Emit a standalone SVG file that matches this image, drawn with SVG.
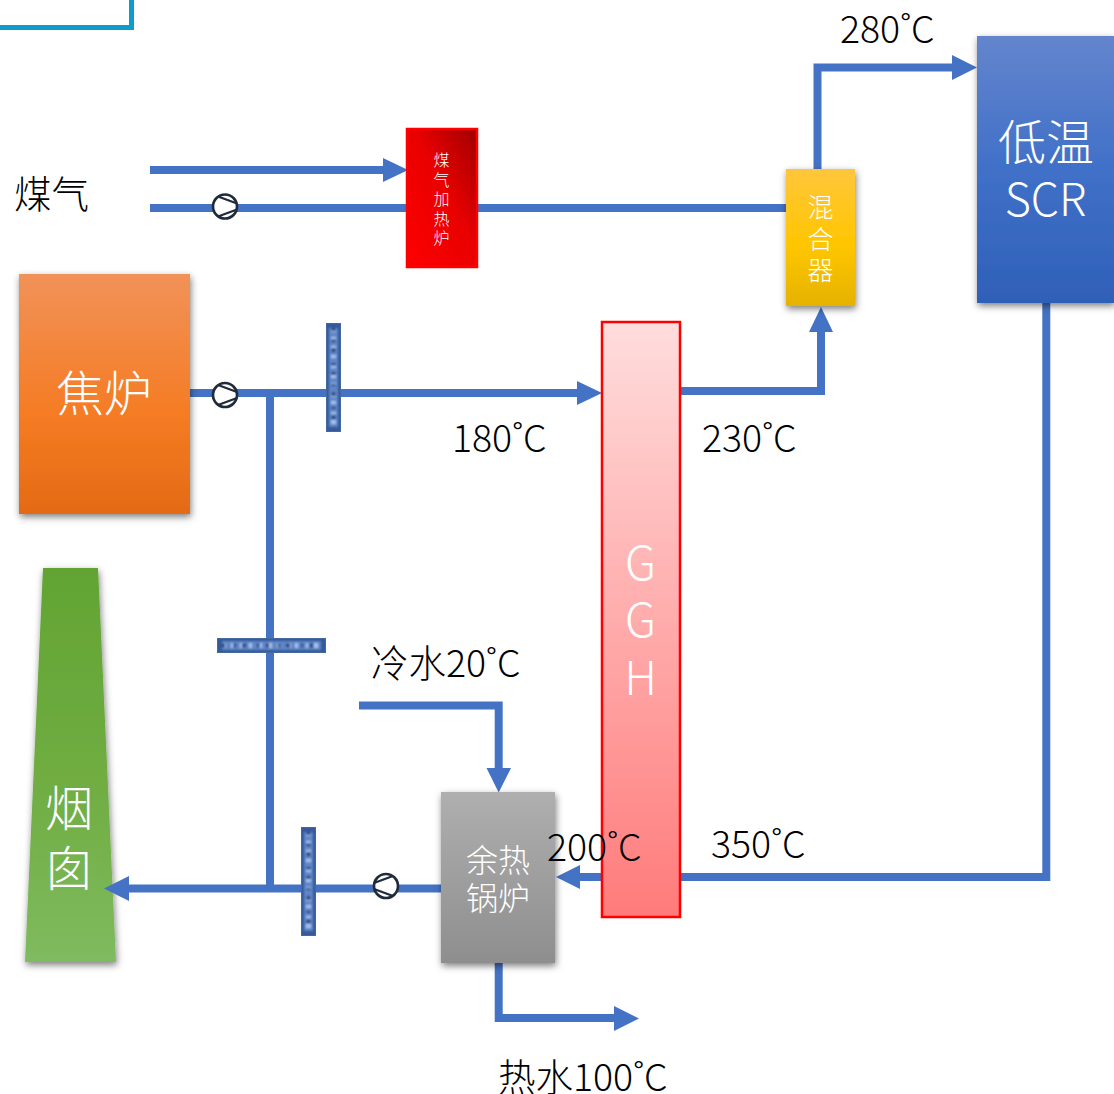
<svg xmlns="http://www.w3.org/2000/svg" width="1114" height="1094" viewBox="0 0 1114 1094">
<style>
text{font-family:"Noto Sans CJK SC","Noto Sans",sans-serif;font-weight:300}
.l{font-size:37.500px;fill:#000}
.w{fill:#fff;text-anchor:middle}
.p{fill:none;stroke:#4472c4;stroke-width:8}
.a{fill:#4472c4}
.s{fill:#fff;stroke:#1f2a3a;stroke-width:2.6}
.k{fill:none;stroke:#1f2a3a;stroke-width:2.2}
.b{fill:#35599b;stroke:#44699f;stroke-width:1}
.t0{fill:none;stroke:#5f86c8;stroke-width:9}
.t1{fill:none;stroke:#a9c3ea;stroke-width:5;stroke-dasharray:4 5 2 7 5 4 3 8 2 6}
.t2{fill:none;stroke:#1c3a78;stroke-width:4;stroke-dasharray:3 9 2 6 4 11 2 7}
.g{filter:url(#n)}
</style>
<defs>
<filter id="sh" x="-20%" y="-20%" width="140%" height="140%"><feDropShadow dx="1" dy="3" stdDeviation="3.500" flood-color="#000" flood-opacity=".5"/></filter>
<filter id="n" filterUnits="userSpaceOnUse" x="200" y="300" width="160" height="650"><feGaussianBlur stdDeviation="1"/></filter>
<linearGradient id="go" x1="0" y1="0" x2="0" y2="1"><stop offset="0" stop-color="#f19259"/><stop offset=".6" stop-color="#f57b22"/><stop offset="1" stop-color="#e46a15"/></linearGradient>
<linearGradient id="gr" x1="0" y1="1" x2="1" y2="0"><stop offset="0" stop-color="#ff0000"/><stop offset=".55" stop-color="#e90000"/><stop offset="1" stop-color="#a00000"/></linearGradient>
<linearGradient id="gg" x1="0" y1="0" x2="0" y2="1"><stop offset="0" stop-color="#ffdddd"/><stop offset="1" stop-color="#ff7b7b"/></linearGradient>
<linearGradient id="gy" x1="0" y1="0" x2="0" y2="1"><stop offset="0" stop-color="#ffc63c"/><stop offset=".55" stop-color="#ffc600"/><stop offset="1" stop-color="#e5b200"/></linearGradient>
<linearGradient id="gb" x1="0" y1="0" x2="0" y2="1"><stop offset="0" stop-color="#6485cd"/><stop offset=".5" stop-color="#4070c8"/><stop offset="1" stop-color="#2f60b8"/></linearGradient>
<linearGradient id="gs" x1="0" y1="0" x2="0" y2="1"><stop offset="0" stop-color="#afafaf"/><stop offset="1" stop-color="#8e8e8e"/></linearGradient>
<linearGradient id="gc" x1="0" y1="0" x2="0" y2="1"><stop offset="0" stop-color="#62a433"/><stop offset=".55" stop-color="#70ad42"/><stop offset="1" stop-color="#7fbb5f"/></linearGradient>
</defs>
<path d="M0 27.500H131.500V0" fill="none" stroke="#0e9ccb" stroke-width="5"/>
<g id="chimney"><path d="M43 568H98L116 962H25Z" fill="url(#gc)" filter="url(#sh)"/>
<text class="w" font-size="48" x="69" y="826"><tspan x="69">烟</tspan><tspan x="69" dy="60">囱</tspan></text></g>
<g id="connectors">
<path class="p" d="M150 170H384"/><path class="a" d="M383 158L408 170L383 182Z"/>
<path class="p" d="M150 208H786"/>
<path class="p" d="M190 393H578"/><path class="a" d="M577 381L602 393L577 405Z"/>
<path class="p" d="M270 393V889"/>
<path class="p" d="M441 888.500H128"/><path class="a" d="M129 876L104 888.500L129 901Z"/>
<path class="p" d="M359 705.500H498.700V769"/><path class="a" d="M486.500 768H511L498.700 792.500Z"/>
<path class="p" d="M1046.300 303V877H579"/><path class="a" d="M580 865V889L556 877Z"/>
<path class="p" d="M680 391H821V331"/><path class="a" d="M809 332H833L821 307Z"/>
<path class="p" d="M817.500 169V67.500H953"/><path class="a" d="M952 55L977 67.500L952 80Z"/>
<path class="p" d="M498.700 962V1018H615"/><path class="a" d="M614 1006L639 1018.500L614 1031Z"/>
</g>
<g id="bar1"><rect class="b" x="326.500" y="323.500" width="14" height="108"/><g class="g"><path class="t0" d="M333.500 328V427"/><path class="t1" d="M333.500 328V427"/><path class="t2" d="M333.500 328V427"/></g></g>
<g id="bar2"><rect class="b" x="217.500" y="638.500" width="108" height="14"/><g class="g"><path class="t0" d="M222 645.500H321"/><path class="t1" d="M222 645.500H321"/><path class="t2" d="M222 645.500H321"/></g></g>
<g id="bar3"><rect class="b" x="301.500" y="827.500" width="14" height="108"/><g class="g"><path class="t0" d="M308.500 832V931"/><path class="t1" d="M308.500 832V931"/><path class="t2" d="M308.500 832V931"/></g></g>
<g id="pump1"><circle class="s" cx="225" cy="206.500" r="12"/><path class="k" d="M218 196.500L237 203.500M218 216.500L237 209.500"/></g>
<g id="pump2"><circle class="s" cx="225" cy="395" r="12"/><path class="k" d="M218 385L237 392M218 405L237 398"/></g>
<g id="pump3"><circle class="s" cx="386" cy="886" r="12"/><path class="k" d="M393 876L374 883M393 896L374 889"/></g>
<g id="heater"><rect x="407" y="129" width="70" height="138" fill="url(#gr)" stroke="#ff0000" stroke-width="2.500"/>
<text class="w" font-size="16" y="166"><tspan x="441.500">煤</tspan><tspan x="441.500" dy="19.600">气</tspan><tspan x="441.500" dy="19.600">加</tspan><tspan x="441.500" dy="19.600">热</tspan><tspan x="441.500" dy="19.600">炉</tspan></text></g>
<g id="coke"><rect x="19" y="274" width="171" height="240" fill="url(#go)" filter="url(#sh)"/><text class="w" font-size="48" x="104" y="411">焦炉</text></g>
<g id="ggh"><rect x="602" y="322" width="78" height="595" fill="url(#gg)" stroke="#ff0000" stroke-width="2.500"/>
<text class="w" font-size="46" y="580"><tspan x="640.500">G</tspan><tspan x="640.500" dy="57">G</tspan><tspan x="640.500" dy="58">H</tspan></text></g>
<g id="mixer"><rect x="786" y="169" width="69" height="137" fill="url(#gy)" filter="url(#sh)"/>
<text class="w" font-size="26" y="217"><tspan x="820.500">混</tspan><tspan x="820.500" dy="32">合</tspan><tspan x="820.500" dy="31">器</tspan></text></g>
<g id="scr"><rect x="977" y="36" width="137" height="267" fill="url(#gb)" filter="url(#sh)"/>
<text class="w" font-size="48" x="1046" y="160">低温</text><text class="w" font-size="45" x="1045.500" y="216">SCR</text></g>
<g id="boiler"><rect x="441" y="792" width="114" height="171" fill="url(#gs)" filter="url(#sh)"/>
<text class="w" font-size="32" x="498" y="872">余热</text><text class="w" font-size="32" x="498" y="910">锅炉</text></g>
<g id="labels">
<text class="l" x="14" y="208">煤气</text>
<text class="l" x="452" y="452">180˚C</text>
<text class="l" x="702" y="452">230˚C</text>
<text class="l" x="840" y="43">280˚C</text>
<text class="l" x="371" y="677">冷水20˚C</text>
<text class="l" x="547" y="861">200˚C</text>
<text class="l" x="711" y="858">350˚C</text>
<text class="l" x="498" y="1091">热水100˚C</text>
</g>
</svg>
